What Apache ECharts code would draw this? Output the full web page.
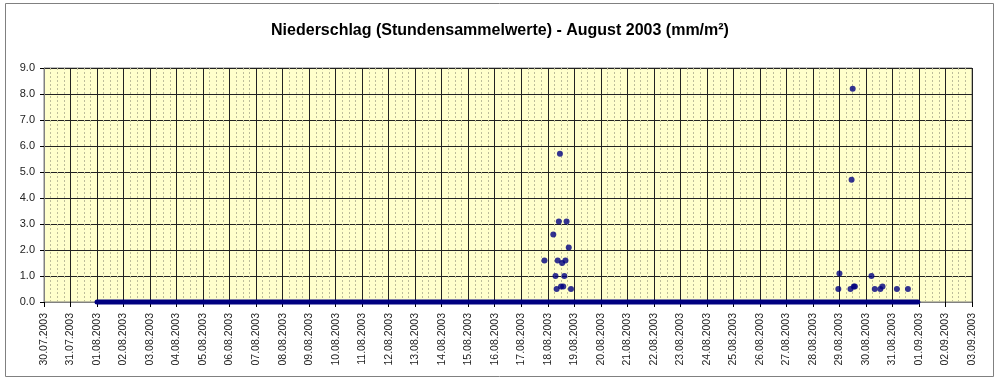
<!DOCTYPE html>
<html>
<head>
<meta charset="utf-8">
<script src="https://cdn.jsdelivr.net/npm/echarts@6/dist/echarts.min.js"></script>
<style>
html,body{margin:0;padding:0;background:#fff;}
#chart{width:1000px;height:382px;}
</style>
</head>
<body>
<div id="chart"></div>
<script>
// ---- data ----
var titleText = 'Niederschlag (Stundensammelwerte) - August 2003 (mm/m²)';
var axisStart = '2003-07-30 00:00';
var axisEnd = '2003-09-03 00:00';
var yTicks = [0, 1, 2, 3, 4, 5, 6, 7, 8, 9];

// hourly values of 0 mm: first and last hour of August
var zeroTimes = ['2003-08-01 00:00', '2003-08-31 23:00'];
var zeroValues = [0, 0];

// hourly values above 0 mm
var rainTimes = [
  '2003-08-17 21:00', '2003-08-18 05:00', '2003-08-18 07:00', '2003-08-18 08:00',
  '2003-08-18 09:00', '2003-08-18 10:00', '2003-08-18 11:00', '2003-08-18 12:00',
  '2003-08-18 13:00', '2003-08-18 14:00', '2003-08-18 15:00', '2003-08-18 16:00',
  '2003-08-18 17:00', '2003-08-18 19:00', '2003-08-18 21:00',
  '2003-08-28 23:00', '2003-08-29 00:00', '2003-08-29 10:00', '2003-08-29 11:00',
  '2003-08-29 12:00', '2003-08-29 13:00', '2003-08-29 14:00',
  '2003-08-30 05:00', '2003-08-30 08:00', '2003-08-30 13:00', '2003-08-30 15:00',
  '2003-08-31 04:00', '2003-08-31 14:00'
];
var rainValues = [
  1.6, 2.6, 1.0, 0.5,
  1.6, 3.1, 5.7, 0.6,
  1.5, 0.6, 1.0, 1.6,
  3.1, 2.1, 0.5,
  0.5, 1.1, 0.5, 4.7,
  8.2, 0.6, 0.6,
  1.0, 0.5, 0.5, 0.6,
  0.5, 0.5
];

// ---- helpers ----
function toMs(s) {
  var p = s.split(/[- :]/).map(Number);
  return Date.UTC(p[0], p[1] - 1, p[2], p[3], p[4]);
}
function pad(n) { return (n < 10 ? '0' : '') + n; }
function fmtDate(v) {
  var d = new Date(v);
  return pad(d.getUTCDate()) + '.' + pad(d.getUTCMonth() + 1) + '.' + d.getUTCFullYear();
}
var DAY = 86400000;

var zeroData = zeroTimes.map(function (t, i) { return [toMs(t), zeroValues[i]]; });
var rainData = rainTimes.map(function (t, i) { return [toMs(t), rainValues[i]]; });

var chart = echarts.init(document.getElementById('chart'), null, {renderer: 'canvas'});
var font = 'Arial, "Liberation Sans", sans-serif';

chart.setOption({
  animation: false,
  backgroundColor: '#ffffff',
  title: {
    text: titleText,
    left: 'center',
    top: 18,
    textStyle: {fontFamily: font, fontSize: 16, fontWeight: 'bold', color: '#000'}
  },
  graphic: [{
    type: 'rect',
    shape: {x: 5.5, y: 3.5, width: 988, height: 373},
    style: {fill: null, stroke: '#808080', lineWidth: 1},
    silent: true,
    z: 100
  }],
  grid: {
    left: 44, right: 28, top: 68, bottom: 80,
    show: true,
    backgroundColor: '#FFFFCC',
    borderColor: '#808080',
    borderWidth: 1
  },
  xAxis: {
    type: 'value',
    min: toMs(axisStart),
    max: toMs(axisEnd),
    interval: DAY,
    axisLine: {show: true, onZero: false, lineStyle: {color: '#808080', width: 1}},
    axisTick: {show: true, length: 5, lineStyle: {color: '#000'}},
    minorTick: {show: false, splitNumber: 4},
    axisLabel: {
      rotate: 90,
      margin: 11,
      fontFamily: font,
      fontSize: 10.5,
      color: '#222',
      formatter: function (v) { return fmtDate(v); }
    },
    splitLine: {show: true, lineStyle: {color: '#222', width: 1}},
    minorSplitLine: {show: true, lineStyle: {color: '#BDBD9A', width: 1, type: [2, 2]}}
  },
  yAxis: {
    type: 'value',
    min: yTicks[0],
    max: yTicks[yTicks.length - 1],
    interval: 1,
    axisLine: {show: true, lineStyle: {color: '#808080', width: 1}},
    axisTick: {show: true, length: 4, lineStyle: {color: '#000'}},
    axisLabel: {
      margin: 9,
      fontFamily: font,
      fontSize: 11,
      color: '#222',
      formatter: function (v) { return v.toFixed(1); }
    },
    splitLine: {show: true, lineStyle: {color: '#222', width: 1}}
  },
  series: [
    {
      type: 'line',
      data: zeroData,
      showSymbol: false,
      lineStyle: {color: '#000080', width: 5, cap: 'round'},
      clip: false,
      z: 3
    },
    {
      type: 'scatter',
      data: rainData,
      symbol: 'circle',
      symbolSize: 6,
      itemStyle: {color: '#000080'},
      z: 4
    }
  ]
});
</script>
</body>
</html>
